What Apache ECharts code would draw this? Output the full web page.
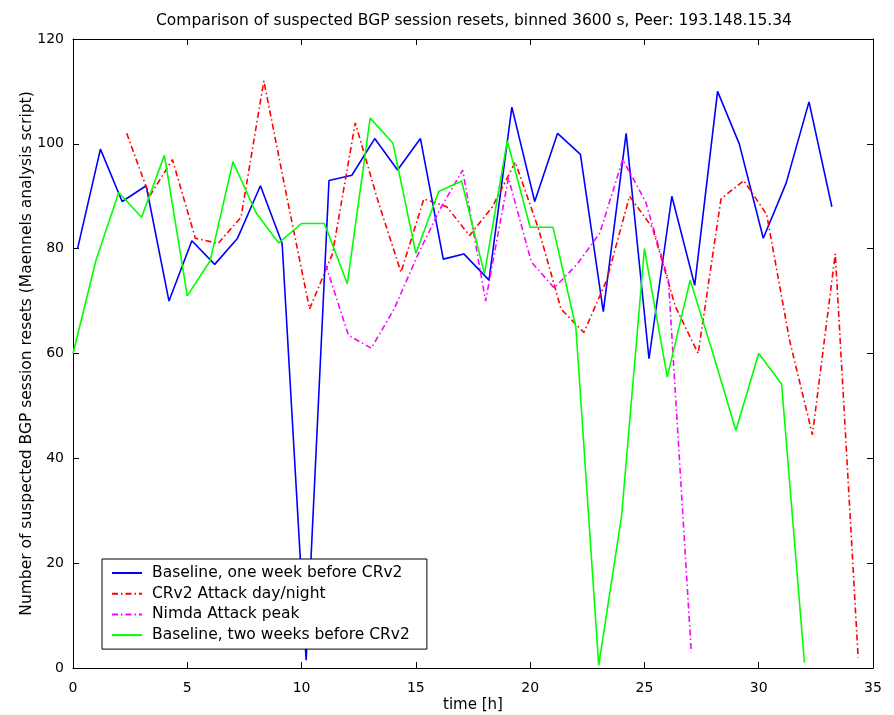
<!DOCTYPE html>
<html>
<head>
  <meta charset="utf-8">
  <script src="https://cdn.jsdelivr.net/npm/echarts@6/dist/echarts.min.js"></script>
  <style>
    html, body { margin: 0; padding: 0; background: #fff; }
  </style>
</head>
<body>
  <div id="id_chart" style="width: 894px; height: 715px;"></div>

  <script type="text/javascript">
    // chart data
    var chartTitle = 'Comparison of suspected BGP session resets, binned 3600 s, Peer: 193.148.15.34';
    var yName = 'Number of suspected BGP session resets (Maennels analysis script)';
    var xName = 'time [h]';
    var seriesNames = ['Baseline, one week before CRv2', 'CRv2 Attack day/night', 'Nimda Attack peak', 'Baseline, two weeks before CRv2'];

    // Baseline, one week before CRv2 (blue)
    var weekHours = [0.2, 1.2, 2.15, 3.2, 4.2, 5.2, 6.2, 7.2, 8.2, 9.15, 10.2, 11.2, 12.2, 13.2, 14.2, 15.2, 16.2, 17.1, 18.2, 19.2,
      20.2, 21.2, 22.2, 23.2, 24.2, 25.2, 26.2, 27.2, 28.2, 29.15, 30.2, 31.2, 32.2, 33.2];
    var weekResets = [80, 99, 89, 92, 70, 81.5, 77, 82, 92, 81, 1.5, 93, 94, 101, 95, 101, 78, 79, 74, 107,
      89, 102, 98, 68, 102, 59, 90, 73, 110, 100, 82, 92.5, 108, 88];

    // CRv2 Attack day/night (red)
    var crv2Hours = [2.35, 3.35, 4.35, 5.35, 6.35, 7.35, 8.35, 9.35, 10.35, 11.35, 12.35, 13.35, 14.35, 15.35, 16.35, 17.35,
      18.35, 19.35, 20.35, 21.35, 22.35, 23.35, 24.35, 25.35, 26.35, 27.35, 28.35, 29.35, 30.35, 31.35, 32.35, 33.35, 34.35];
    var crv2Resets = [102, 90, 97, 82, 81, 86, 112, 90, 68.5, 79, 104, 89, 75.5, 89.5, 88, 82.5,
      88, 96.5, 84, 68.5, 64, 74, 90, 84, 69, 60, 89.5, 93, 86.5, 62.5, 44.5, 79, 2];

    // Nimda Attack peak (magenta)
    var nimdaHours = [11.05, 12.05, 13.05, 14.05, 15.05, 16.05, 17.05, 18.05, 19.05, 20.05, 21.05, 22.05, 23.05, 24.05, 25.05, 26.05, 27.05];
    var nimdaResets = [77, 63.5, 61, 68.5, 78.5, 87.5, 95, 70, 93.5, 77.5, 72.5, 77, 83, 97, 89, 74, 3];

    // Baseline, two weeks before CRv2 (green)
    var twoWeekHours = [0, 1, 2, 3, 4, 5, 6, 7, 8, 9, 10, 11, 12, 13, 14, 15, 16, 17, 18, 19,
      20, 21, 22, 23, 24, 25, 26, 27, 28, 29, 30, 31, 32];
    var twoWeekResets = [60, 77.7, 90.7, 86, 97.8, 71, 77.7, 96.6, 86.9, 81.1, 84.8, 84.8, 73.3, 104.9, 100.1, 79.1, 90.9, 92.9, 75.2, 100.6,
      84.1, 84.1, 65, 0.5, 29, 80, 55.5, 74, 60, 45.3, 60, 54.2, 1];

    var fontName = 'DejaVu Sans';

    function pairs(xs, ys) {
      var out = [];
      for (var i = 0; i < xs.length; i++) {
        out.push([xs[i], ys[i]]);
      }
      return out;
    }

    function lineSeries(name, xs, ys, color, dash) {
      return {
        name: name,
        type: 'line',
        symbol: 'none',
        animation: false,
        data: pairs(xs, ys),
        lineStyle: { color: color, width: 1.6, type: dash },
        itemStyle: { color: color },
      };
    }

    // the box round the plot: a second x axis on top, a second y axis on the right
    function boxAxis(base, position, showLabel, labelMargin) {
      return Object.assign({
        position: position,
        nameMoveOverlap: false,
        axisLine: { show: true, onZero: false, lineStyle: { color: '#000', width: 1 } },
        axisTick: { show: true, inside: true, length: 6, lineStyle: { color: '#000' } },
        axisLabel: { show: showLabel, margin: labelMargin, color: '#000', fontFamily: fontName, fontSize: 14 },
        splitLine: { show: false },
      }, base);
    }

    var myChart = echarts.init(document.getElementById('id_chart'), null, { renderer: 'canvas' });
    var dashDot = [6, 3, 1.5, 3];

    var option = {
      backgroundColor: '#fff',
      animation: false,
      title: {
        text: chartTitle,
        left: 151,
        top: 8,
        textStyle: { fontFamily: fontName, fontSize: 15.5, fontWeight: 'normal', color: '#000' },
      },
      grid: { left: 73, right: 21, top: 39, bottom: 47, containLabel: false, outerBoundsMode: 'none' },
      legend: {
        orient: 'vertical',
        left: 102,
        top: 559,
        padding: [6, 17, 6, 9],
        itemGap: 4.7,
        itemWidth: 30,
        itemHeight: 14,
        borderColor: '#000',
        borderWidth: 1,
        borderRadius: 0,
        backgroundColor: '#fff',
        itemStyle: { opacity: 0 },
        textStyle: { fontFamily: fontName, fontSize: 15.5, lineHeight: 15, color: '#000', padding: [0, 0, 0, 5] },
        data: seriesNames,
      },
      xAxis: [
        boxAxis({
          type: 'value', min: 0, max: 35, interval: 5,
          name: xName, nameLocation: 'middle', nameGap: 30,
          nameTextStyle: { fontFamily: fontName, fontSize: 15, color: '#000' },
        }, 'bottom', true, 13),
        boxAxis({ type: 'value', min: 0, max: 35, interval: 5 }, 'top', false, 8),
      ],
      yAxis: [
        boxAxis({
          type: 'value', min: 0, max: 120, interval: 20,
          name: yName, nameLocation: 'middle', nameGap: 38,
          nameTextStyle: { fontFamily: fontName, fontSize: 15.5, color: '#000' },
        }, 'left', true, 9),
        boxAxis({ type: 'value', min: 0, max: 120, interval: 20 }, 'right', false, 8),
      ],
      series: [
        lineSeries(seriesNames[0], weekHours, weekResets, '#0000ff', 'solid'),
        lineSeries(seriesNames[1], crv2Hours, crv2Resets, '#ff0000', dashDot),
        lineSeries(seriesNames[2], nimdaHours, nimdaResets, '#ff00ff', dashDot),
        lineSeries(seriesNames[3], twoWeekHours, twoWeekResets, '#00ff00', 'solid'),
      ],
    };
    myChart.setOption(option);
  </script>
</body>
</html>
